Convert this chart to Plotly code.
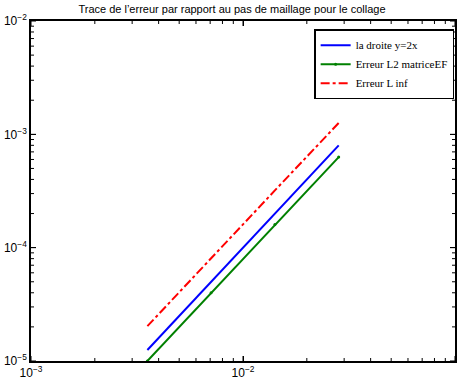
import plotly.graph_objects as go

h = [0.00354, 0.00707, 0.01414, 0.02828]
droite = [1.25e-5, 5.0e-5, 2.0e-4, 8.0e-4]
err_l2 = [1.0e-5, 4.0e-5, 1.6e-4, 6.3e-4]
err_linf = [2.03e-5, 8.1e-5, 3.2e-4, 1.26e-3]

xticks = [1e-3, 1e-2, 1e-1]
xticktext = ["10<sup>−3</sup>", "10<sup>−2</sup>", "10<sup>−1</sup>"]
yticks = [1e-5, 1e-4, 1e-3, 1e-2]
yticktext = ["10<sup>−5</sup>", "10<sup>−4</sup>", "10<sup>−3</sup>", "10<sup>−2</sup>"]

x_minor = [m * 10.0 ** e for e in (-3, -2) for m in range(2, 10)]
y_minor = [m * 10.0 ** e for e in (-5, -4, -3) for m in range(2, 10)]

W, H = 464, 383
ML, MR, MT, MB = 31, 9, 21, 22
PW, PH = W - ML - MR, H - MT - MB

fig = go.Figure()
fig.add_trace(go.Scatter(x=h, y=droite, mode="lines", name="la droite y=2x",
                         line=dict(color="#0000FF", width=2)))
fig.add_trace(go.Scatter(x=h, y=err_l2, mode="lines+markers", name="Erreur L2 matriceEF",
                         line=dict(color="#008000", width=2),
                         marker=dict(size=3, color="#008000")))
fig.add_trace(go.Scatter(x=h, y=err_linf, mode="lines", name="Erreur L inf",
                         line=dict(color="#FF0000", width=2, dash="dashdot")))

axis_common = dict(
    type="log", showgrid=False, zeroline=False, showline=True, linecolor="black",
    linewidth=1.5, mirror="ticks", ticks="inside", ticklen=5, tickcolor="black",
    tickwidth=1, automargin=False,
    tickfont=dict(family="Liberation Sans, Arial, sans-serif", size=12, color="black"),
)
fig.update_xaxes(range=[-3, -1], tickvals=xticks, ticktext=xticktext, **axis_common)
fig.update_yaxes(range=[-5, -2], tickvals=yticks, ticktext=yticktext, **axis_common)

# tick marks on all four sides (major 5px, minor 3px), inside the frame
tick_line = dict(color="black", width=1)
for vals, length in ((xticks, 5), (x_minor, 3)):
    fl = length / PH
    for v in vals:
        fig.add_shape(type="line", xref="x", yref="paper", x0=v, x1=v, y0=0, y1=fl, line=tick_line)
        fig.add_shape(type="line", xref="x", yref="paper", x0=v, x1=v, y0=1, y1=1 - fl, line=tick_line)
for vals, length in ((yticks, 5), (y_minor, 3)):
    fl = length / PW
    for v in vals:
        fig.add_shape(type="line", xref="paper", yref="y", x0=0, x1=fl, y0=v, y1=v, line=tick_line)
        fig.add_shape(type="line", xref="paper", yref="y", x0=1, x1=1 - fl, y0=v, y1=v, line=tick_line)

fig.update_layout(
    width=W, height=H,
    margin=dict(l=ML, r=MR, t=MT, b=MB),
    paper_bgcolor="white", plot_bgcolor="white",
    title=dict(text="Trace de l’erreur par rapport au pas de maillage pour le collage",
               x=0.5, xanchor="center", y=0.985, yanchor="top",
               font=dict(family="Liberation Sans, Arial, sans-serif", size=11, color="black")),
    showlegend=True,
    legend=dict(x=0.998, y=0.976, xanchor="right", yanchor="top",
                bgcolor="white", bordercolor="black", borderwidth=1.5,
                font=dict(family="Liberation Serif, Times New Roman, serif", size=11, color="black"),
                tracegroupgap=0, itemwidth=30),
)

fig.write_html("out.html", config={"displayModeBar": False},
               post_script="document.body.style.margin='0';document.body.style.overflow='hidden';")
